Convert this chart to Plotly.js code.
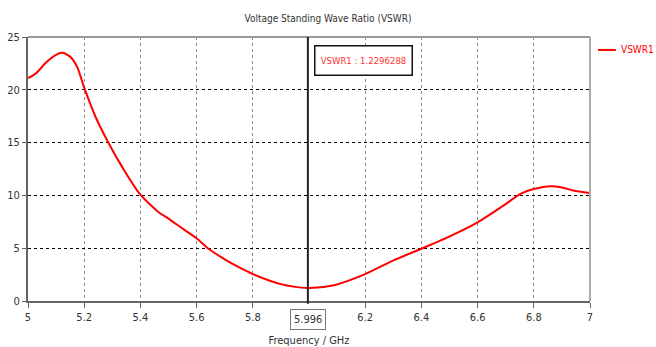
<!DOCTYPE html>
<html>
<head>
<meta charset="utf-8">
<script src="https://cdn.plot.ly/plotly-3.0.1.min.js"></script>
<style>html,body{margin:0;padding:0;background:#fff;}#chart{width:656px;height:347px;}</style>
</head>
<body>
<div id="chart"></div>
<script>
const freq = [5.0, 5.03, 5.065, 5.106, 5.124, 5.153, 5.176, 5.2, 5.241, 5.288, 5.335, 5.396, 5.465, 5.5, 5.553, 5.6, 5.64, 5.7, 5.75, 5.8, 5.9, 5.996, 6.089, 6.2, 6.303, 6.4, 6.495, 6.6, 6.693, 6.752, 6.8, 6.86, 6.896, 6.94, 7.0];
const vswr = [21.1, 21.6, 22.6, 23.4, 23.5, 23.05, 22.1, 20.2, 17.4, 14.9, 12.7, 10.2, 8.4, 7.8, 6.8, 5.95, 5.0, 3.95, 3.2, 2.55, 1.6, 1.23, 1.5, 2.55, 3.87, 4.95, 6.05, 7.45, 9.05, 10.15, 10.6, 10.87, 10.78, 10.47, 10.22];
const xTicks = [5, 5.2, 5.4, 5.6, 5.8, 6.2, 6.4, 6.6, 6.8, 7];
const xTickText = ['5', '5.2', '5.4', '5.6', '5.8', '6.2', '6.4', '6.6', '6.8', '7'];
const yTicks = [0, 5, 10, 15, 20, 25];
const seriesName = 'VSWR1';
const markerFreq = 5.996;
const markerValue = '1.2296288';

const FONT = '"DejaVu Sans Condensed", "Liberation Sans", sans-serif';

const trace = {
  x: freq, y: vswr, type: 'scatter', mode: 'lines', name: seriesName,
  line: {color: '#ff0000', width: 2, shape: 'spline', smoothing: 0.7}
};

const layout = {
  width: 656, height: 347,
  margin: {l: 28, r: 66, t: 37, b: 46},
  paper_bgcolor: '#fff', plot_bgcolor: '#fff',
  font: {family: FONT, size: 11, color: '#333'},
  title: {text: 'Voltage Standing Wave Ratio (VSWR)', x: 0.5, xanchor: 'center', y: 0.948, yanchor: 'middle', font: {family: FONT, size: 10, color: '#333'}},
  showlegend: false,
  xaxis: {
    range: [5, 7], tickvals: xTicks, ticktext: xTickText,
    showgrid: true, gridcolor: '#888', griddash: '3px,3px', gridwidth: 1,
    zeroline: false, showline: true, linecolor: '#666', linewidth: 2,
    ticks: 'outside', ticklen: 5, tickcolor: '#666', tickwidth: 1,
    tickfont: {family: FONT, size: 11, color: '#333'},
    title: {text: 'Frequency / GHz', standoff: 14, font: {family: FONT, size: 11, color: '#333'}}
  },
  yaxis: {
    range: [0, 25], tickvals: yTicks,
    showgrid: true, gridcolor: '#000', griddash: 'dot', gridwidth: 1,
    zeroline: false, showline: true, linecolor: '#666', linewidth: 2,
    ticks: 'outside', ticklen: 4, tickcolor: '#666', tickwidth: 1,
    tickfont: {family: FONT, size: 11, color: '#333'}
  },
  shapes: [
    {type: 'line', xref: 'paper', yref: 'paper', x0: 0, x1: 1, y0: 1, y1: 1, line: {color: '#999', width: 2}},
    {type: 'line', xref: 'paper', yref: 'paper', x0: 1, x1: 1, y0: 0, y1: 1, line: {color: '#aaa', width: 2}},
    {type: 'line', xref: 'x', yref: 'paper', x0: markerFreq, x1: markerFreq, y0: -0.01, y1: 1, line: {color: '#222', width: 2}},
    {type: 'line', xref: 'paper', yref: 'paper', x0: 1.0142, x1: 1.046, y0: 0.951, y1: 0.951, line: {color: '#ff0000', width: 2}}
  ],
  annotations: [
    {xref: 'x', yref: 'paper', x: markerFreq, y: -0.03, yanchor: 'top', xanchor: 'center', showarrow: false,
     text: String(markerFreq), font: {family: FONT, size: 11, color: '#333'},
     bordercolor: '#777', borderwidth: 1, borderpad: 3, bgcolor: '#fff'},
    {xref: 'x', yref: 'paper', x: 6.018, y: 0.97, xanchor: 'left', yanchor: 'top', showarrow: false,
     text: seriesName + ' : ' + markerValue, font: {family: FONT, size: 9.5, color: '#ff3333'},
     width: 90, height: 22, borderpad: 3,
     bordercolor: '#111', borderwidth: 1.5, bgcolor: '#fff'},
    {xref: 'paper', yref: 'paper', x: 1.0516, y: 0.951, xanchor: 'left', yanchor: 'middle', showarrow: false,
     text: seriesName, font: {family: FONT, size: 10, color: '#ff0000'}}
  ]
};

Plotly.newPlot('chart', [trace], layout, {displayModeBar: false, staticPlot: true});
</script>
</body>
</html>
